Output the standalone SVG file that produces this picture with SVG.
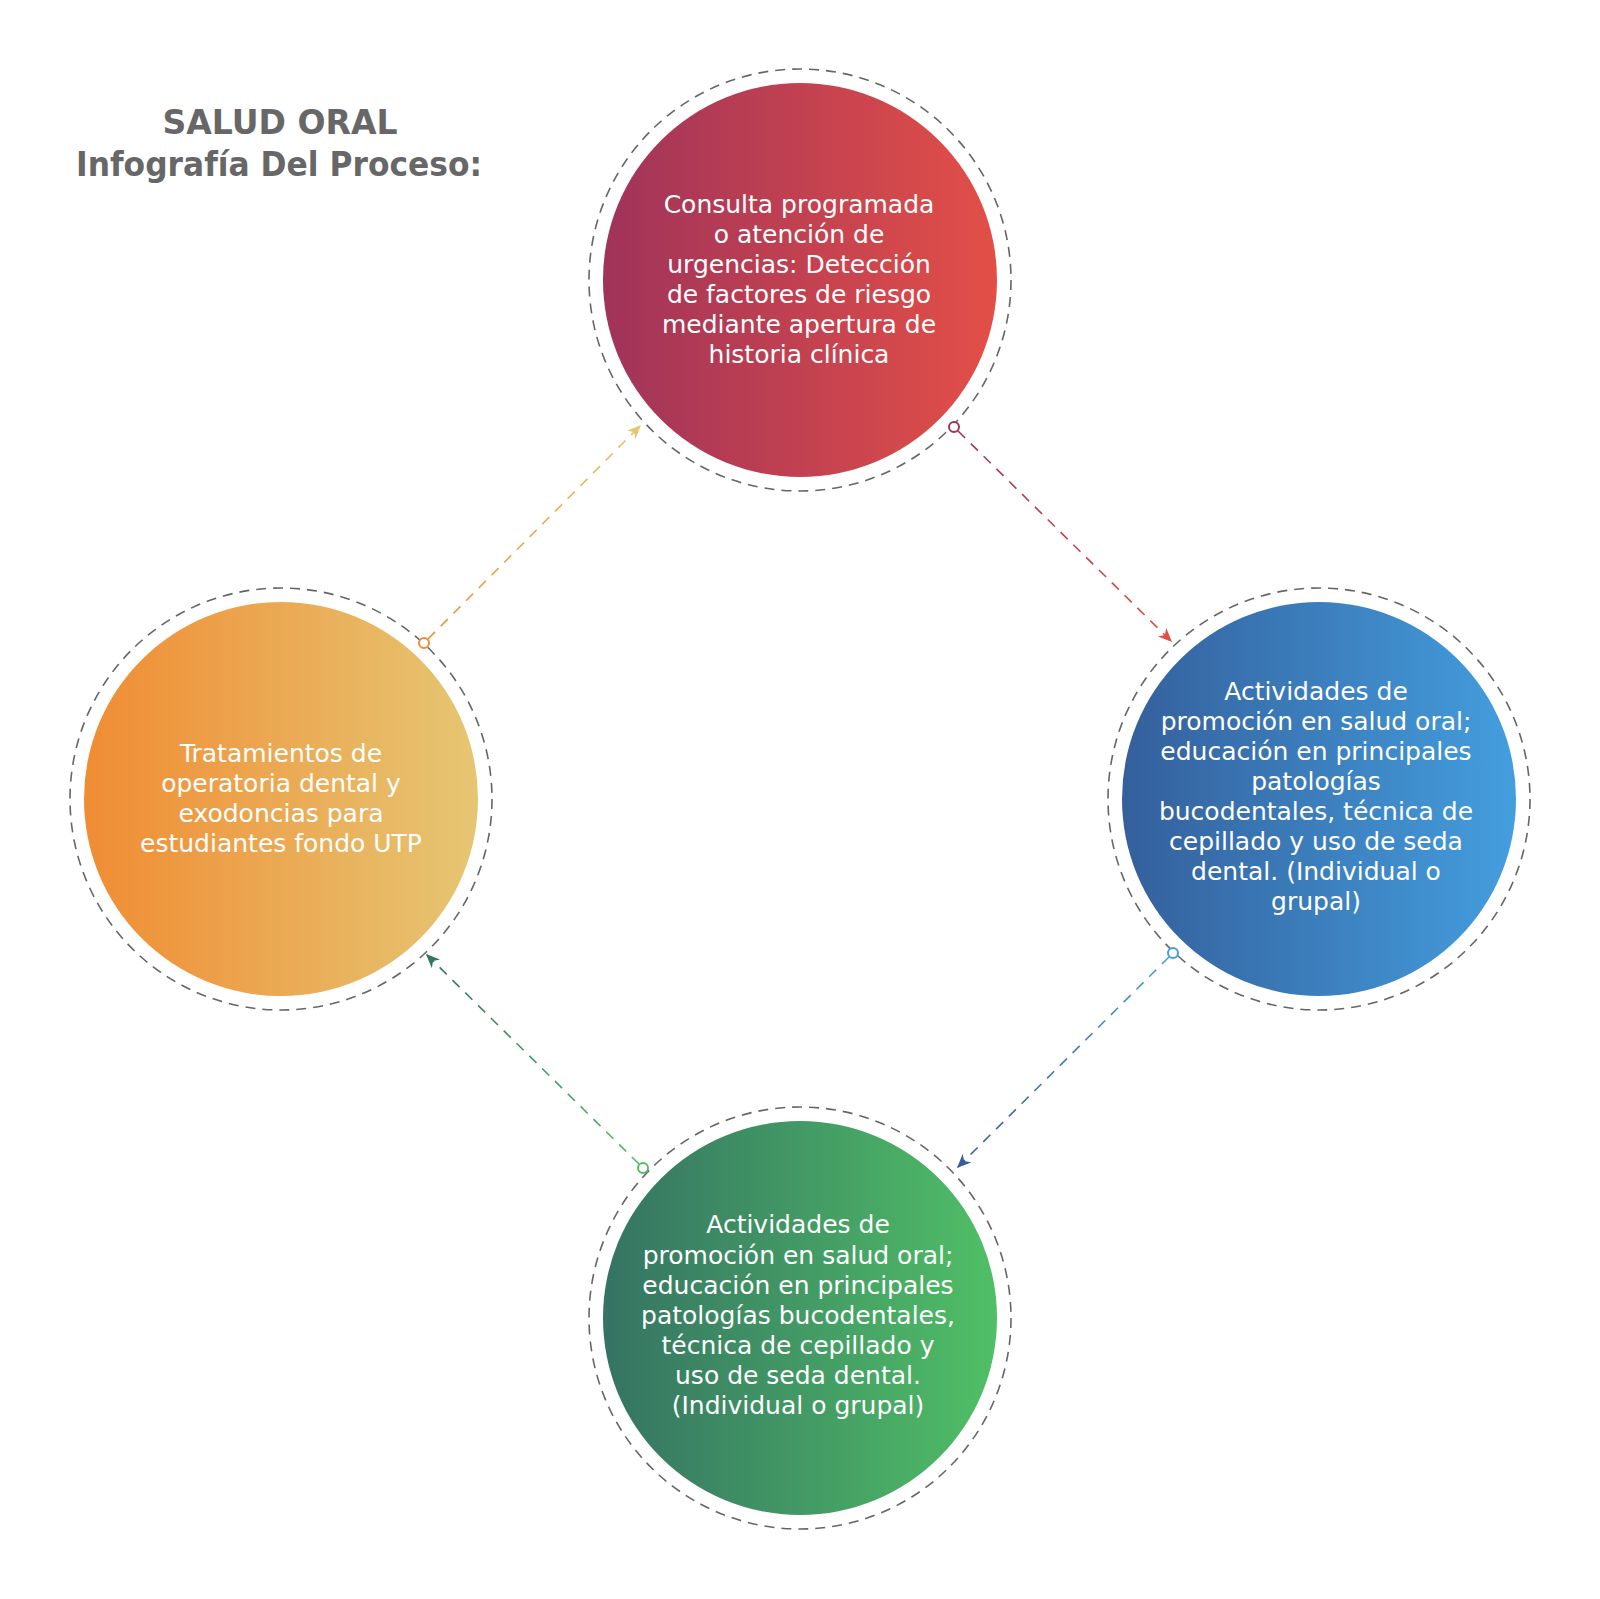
<svg xmlns="http://www.w3.org/2000/svg" width="1600" height="1599" viewBox="0 0 1600 1599">
<style>
.ring{fill:none;stroke:#666;stroke-width:1.6;stroke-dasharray:10 7}
.lbl{font-family:"DejaVu Sans","Noto Sans",sans-serif;font-size:25px;fill:#fff;text-anchor:middle}
.title{font-family:"DejaVu Sans","Noto Sans",sans-serif;font-size:33px;font-weight:bold;fill:#676767;text-anchor:middle}
.conn{fill:none;stroke-width:1.6;stroke-dasharray:10 8}
.dot{fill:#fff;stroke-width:2}
</style>
<defs>
<linearGradient id="gTop" x1="0" y1="0" x2="1" y2="0"><stop offset="0" stop-color="#a0335a"/><stop offset="1" stop-color="#e34f47"/></linearGradient>
<linearGradient id="gRight" x1="0" y1="0" x2="1" y2="0"><stop offset="0" stop-color="#345f9c"/><stop offset="1" stop-color="#449ede"/></linearGradient>
<linearGradient id="gBottom" x1="0" y1="0" x2="1" y2="0"><stop offset="0" stop-color="#357363"/><stop offset="1" stop-color="#50bf66"/></linearGradient>
<linearGradient id="gLeft" x1="0" y1="0" x2="1" y2="0"><stop offset="0" stop-color="#f08c33"/><stop offset="1" stop-color="#e6c673"/></linearGradient>
<linearGradient id="c1" gradientUnits="userSpaceOnUse" x1="954" y1="427" x2="1172" y2="642"><stop offset="0" stop-color="#a0335a"/><stop offset="1" stop-color="#e34f47"/></linearGradient>
<linearGradient id="c2" gradientUnits="userSpaceOnUse" x1="1173" y1="953" x2="957" y2="1168"><stop offset="0" stop-color="#449ede"/><stop offset="1" stop-color="#345f9c"/></linearGradient>
<linearGradient id="c3" gradientUnits="userSpaceOnUse" x1="643" y1="1168" x2="426" y2="954"><stop offset="0" stop-color="#50bf66"/><stop offset="1" stop-color="#357363"/></linearGradient>
<linearGradient id="c4" gradientUnits="userSpaceOnUse" x1="424" y1="643" x2="641" y2="425"><stop offset="0" stop-color="#f08c33"/><stop offset="1" stop-color="#e6c673"/></linearGradient>
<marker id="a1" markerUnits="userSpaceOnUse" markerWidth="14" markerHeight="12" refX="14" refY="6" orient="auto"><path d="M0,0 L14,6 L0,12 L4,6 Z" fill="#e34f47"/></marker>
<marker id="a2" markerUnits="userSpaceOnUse" markerWidth="14" markerHeight="12" refX="14" refY="6" orient="auto"><path d="M0,0 L14,6 L0,12 L4,6 Z" fill="#345f9c"/></marker>
<marker id="a3" markerUnits="userSpaceOnUse" markerWidth="14" markerHeight="12" refX="14" refY="6" orient="auto"><path d="M0,0 L14,6 L0,12 L4,6 Z" fill="#357363"/></marker>
<marker id="a4" markerUnits="userSpaceOnUse" markerWidth="14" markerHeight="12" refX="14" refY="6" orient="auto"><path d="M0,0 L14,6 L0,12 L4,6 Z" fill="#e6c673"/></marker>
</defs>
<rect width="1600" height="1599" fill="#fff"/>
<g id="title">
<text class="title" x="280" y="134" textLength="235" lengthAdjust="spacingAndGlyphs">SALUD ORAL</text>
<text class="title" x="279" y="176" textLength="406" lengthAdjust="spacingAndGlyphs">Infografía Del Proceso:</text>
</g>
<g id="node-top">
<circle class="ring" cx="800" cy="280" r="211"/>
<circle cx="800" cy="280" r="197" fill="url(#gTop)"/>
<text class="lbl"><tspan x="799" y="213">Consulta programada</tspan><tspan x="799" y="243">o atención de</tspan><tspan x="799" y="273">urgencias: Detección</tspan><tspan x="799" y="303">de factores de riesgo</tspan><tspan x="799" y="333">mediante apertura de</tspan><tspan x="799" y="363">historia clínica</tspan></text>
</g>
<g id="node-right">
<circle class="ring" cx="1319" cy="799" r="211"/>
<circle cx="1319" cy="799" r="197" fill="url(#gRight)"/>
<text class="lbl"><tspan x="1316" y="700">Actividades de</tspan><tspan x="1316" y="730">promoción en salud oral;</tspan><tspan x="1316" y="760">educación en principales</tspan><tspan x="1316" y="790">patologías</tspan><tspan x="1316" y="820">bucodentales, técnica de</tspan><tspan x="1316" y="850">cepillado y uso de seda</tspan><tspan x="1316" y="880">dental. (Individual o</tspan><tspan x="1316" y="910">grupal)</tspan></text>
</g>
<g id="node-bottom">
<circle class="ring" cx="800" cy="1318" r="211"/>
<circle cx="800" cy="1318" r="197" fill="url(#gBottom)"/>
<text class="lbl"><tspan x="798" y="1233">Actividades de</tspan><tspan x="798" y="1264">promoción en salud oral;</tspan><tspan x="798" y="1294">educación en principales</tspan><tspan x="798" y="1324">patologías bucodentales,</tspan><tspan x="798" y="1354">técnica de cepillado y</tspan><tspan x="798" y="1384">uso de seda dental.</tspan><tspan x="798" y="1414">(Individual o grupal)</tspan></text>
</g>
<g id="node-left">
<circle class="ring" cx="281" cy="799" r="211"/>
<circle cx="281" cy="799" r="197" fill="url(#gLeft)"/>
<text class="lbl"><tspan x="281" y="762">Tratamientos de</tspan><tspan x="281" y="792">operatoria dental y</tspan><tspan x="281" y="822">exodoncias para</tspan><tspan x="281" y="852">estudiantes fondo UTP</tspan></text>
</g>
<g id="connectors">
<path class="conn" d="M958,431 L1172,642" stroke="url(#c1)" marker-end="url(#a1)"/>
<circle class="dot" cx="954" cy="427" r="5" stroke="#a0335a"/>
<path class="conn" d="M1169,957 L957,1168" stroke="url(#c2)" marker-end="url(#a2)"/>
<circle class="dot" cx="1173" cy="953" r="5" stroke="#449ede"/>
<path class="conn" d="M639,1164 L426,954" stroke="url(#c3)" marker-end="url(#a3)"/>
<circle class="dot" cx="643" cy="1168" r="5" stroke="#50bf66"/>
<path class="conn" d="M428,639 L641,425" stroke="url(#c4)" marker-end="url(#a4)"/>
<circle class="dot" cx="424" cy="643" r="5" stroke="#f08c33"/>
</g>
</svg>
